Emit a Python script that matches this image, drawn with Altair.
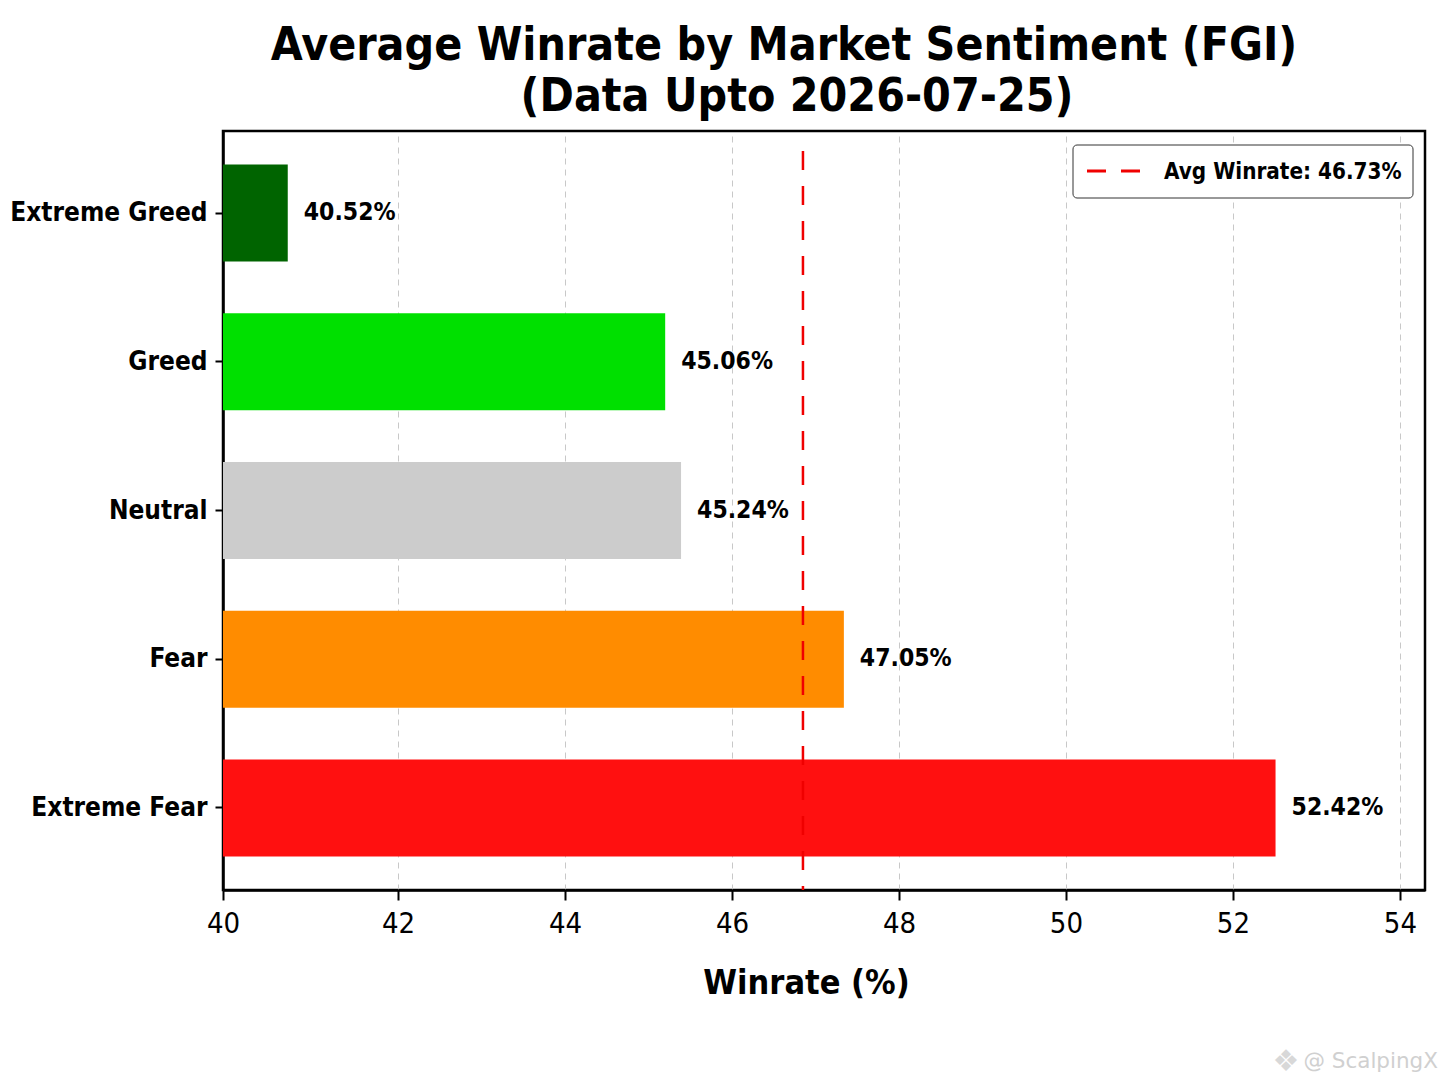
import altair as alt
import pandas as pd

categories = ["Extreme Greed", "Greed", "Neutral", "Fear", "Extreme Fear"]
bar_ends = [40.74, 45.2, 45.39, 47.34, 52.51]
labels = ["40.52%", "45.06%", "45.24%", "47.05%", "52.42%"]
colors = ["#006400", "#00E000", "#CCCCCC", "#FF8C00", "#FF1010"]
avg_value = 46.85
avg_label = "Avg Winrate: 46.73%"
x_ticks = [40, 42, 44, 46, 48, 50, 52, 54]
title_line1 = "Average Winrate by Market Sentiment (FGI)"
title_line2 = "(Data Upto 2026-07-25)"
watermark = "@ ScalpingX"
FONT = "DejaVu Sans Condensed"

df = pd.DataFrame({"cat": categories, "end": bar_ends, "label": labels, "color": colors})
df["start"] = 40
xs = alt.Scale(domain=[40, 42, 54.3], range=[0, 175, 1202], nice=False, zero=False, clamp=False)
ys = alt.Scale(domain=categories, paddingInner=0.348, paddingOuter=0.226)

bars = alt.Chart(df).mark_bar(opacity=1).encode(
    x=alt.X("start:Q", scale=xs, title="Winrate (%)",
            axis=alt.Axis(values=x_ticks, format="d", grid=True, gridColor="#c8c8c8", gridDash=[6, 5],
                          gridWidth=1, tickColor="black", tickSize=10, tickWidth=2, domainColor="black", domainWidth=2.5,
                          labelFont=FONT, labelFontSize=29, labelColor="black", labelPadding=9, labelFlush=False,
                          labelOverlap=False, titleX=583, titleY=93, titleBaseline="middle",
                          titleFont=FONT, titleFontSize=34, titleFontWeight="bold", titleColor="black")),
    x2="end:Q",
    y=alt.Y("cat:N", scale=ys, sort=categories, title=None,
            axis=alt.Axis(tickColor="black", tickSize=8, tickWidth=2, domainColor="black", domainWidth=2.5, grid=False,
                          minExtent=215, maxExtent=215, labelLimit=300,
                          labelFont=FONT, labelFontSize=26, labelFontWeight="bold", labelColor="black", labelPadding=8)),
    color=alt.Color("color:N", scale=None),
)
text = alt.Chart(df).mark_text(align="left", baseline="middle", dx=16, font=FONT, fontSize=24.5,
                               fontWeight="bold", color="black").encode(
    x=alt.X("end:Q", scale=xs), y=alt.Y("cat:N", scale=ys, sort=categories), text="label:N")
rule = alt.Chart(pd.DataFrame({"x": [avg_value]})).mark_rule(color="#F00000", strokeWidth=2.5, strokeDash=[19, 16]).encode(
    x=alt.X("x:Q", scale=xs), y=alt.value(20), y2=alt.value(759))
box = alt.Chart(pd.DataFrame({"a": [0]})).mark_rect(fill="white", stroke="#333333", strokeWidth=1, cornerRadius=4).encode(
    x=alt.value(850), x2=alt.value(1190), y=alt.value(14), y2=alt.value(67))
key = alt.Chart(pd.DataFrame({"a": [0]})).mark_rule(color="#F00000", strokeWidth=3, strokeDash=[19, 15]).encode(
    x=alt.value(864), x2=alt.value(918), y=alt.value(40))
keytext = alt.Chart(pd.DataFrame({"t": [avg_label]})).mark_text(align="left", baseline="middle", font=FONT, fontSize=22.3,
    fontWeight="bold", color="black").encode(x=alt.value(941), y=alt.value(41), text="t:N")
mark = alt.Chart(pd.DataFrame({"t": [watermark]})).mark_text(align="right", baseline="middle", font="DejaVu Sans", fontSize=21.5,
    color="#d0d0d0").encode(x=alt.value(1215), y=alt.value(931), text="t:N")
logo = alt.Chart(pd.DataFrame({"t": ["❖"]})).mark_text(align="center", baseline="middle", font="DejaVu Sans", fontSize=30,
    color="#d8d8d8").encode(x=alt.value(1063), y=alt.value(931), text="t:N")
line2 = alt.Chart(pd.DataFrame({"t": [title_line2]})).mark_text(align="center", baseline="middle", font=FONT, fontSize=46,
    fontWeight="bold", color="black").encode(x=alt.value(574), y=alt.value(-34), text="t:N")

chart = (bars + rule + text + box + key + keytext + logo + mark + line2).properties(
    width=1202, height=759,
    title=alt.TitleParams(title_line1, font=FONT, fontSize=46, fontWeight="bold", color="black",
                          anchor="middle", offset=4, dx=-40),
    padding={"left": 0, "top": 15, "right": 0, "bottom": 0},
).configure_view(stroke="black", strokeWidth=2.5)
chart.save("out.html", embed_options={"renderer": "svg", "actions": False})
